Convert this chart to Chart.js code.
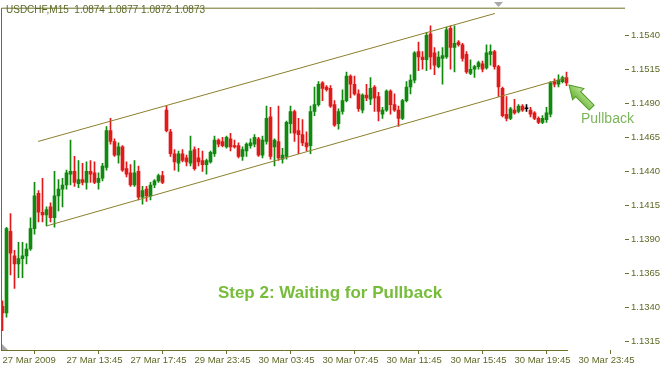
<!DOCTYPE html>
<html>
<head>
<meta charset="utf-8">
<script src="https://cdn.jsdelivr.net/npm/chart.js@4.4.1/dist/chart.umd.min.js"></script>
<style>
html, body { margin: 0; padding: 0; background: #fff; }
</style>
</head>
<body>
<canvas id="candleChart" width="660" height="366"></canvas>
<script>
// USDCHF M15 bars, left to right (one entry per bar)
var opens = [1.1341,1.1336,1.1396,1.1378,1.1372,1.1376,1.1378,1.1383,1.1398,1.1424,
  1.1410,1.1408,1.1414,1.1406,1.1422,1.1427,1.1430,1.1438,1.1440,1.1431,
  1.1434,1.1432,1.1440,1.1439,1.1432,1.1435,1.1443,1.1470,1.1462,1.1452,
  1.1458,1.1442,1.1439,1.1430,1.1440,1.1421,1.1427,1.1422,1.1430,1.1433,
  1.1437,1.1485,1.1469,1.1453,1.1446,1.1453,1.1450,1.1446,1.1456,1.1450,
  1.1448,1.1445,1.1447,1.1453,1.1463,1.1462,1.1458,1.1464,1.1459,1.1459,
  1.1451,1.1455,1.1459,1.1460,1.1464,1.1452,1.1462,1.1480,1.1458,1.1462,
  1.1449,1.1451,1.1475,1.1484,1.1470,1.1467,1.1461,1.1459,1.1484,1.1489,
  1.1505,1.1502,1.1501,1.1489,1.1475,1.1484,1.1492,1.1510,1.1504,1.1497,
  1.1485,1.1496,1.1493,1.1502,1.1495,1.1482,1.1485,1.1499,1.1489,1.1485,
  1.1479,1.1492,1.1502,1.1507,1.1528,1.1524,1.1522,1.1541,1.1527,1.1517,
  1.1523,1.1524,1.1545,1.1531,1.1535,1.1533,1.1526,1.1512,1.1515,1.1517,
  1.1519,1.1516,1.1526,1.1528,1.1517,1.1501,1.1482,1.1479,1.1485,1.1484,
  1.1488,1.1486,1.1485,1.1483,1.1479,1.1476,1.1478,1.1482,1.1506,1.1504,
  1.1506,1.1509];
var highs = [1.1345,1.1399,1.1409,1.1382,1.1388,1.1388,1.1387,1.1406,1.1432,1.1426,
  1.1435,1.1414,1.1417,1.1440,1.1434,1.1435,1.1441,1.1463,1.1451,1.1448,
  1.1446,1.1447,1.1448,1.1447,1.1439,1.1446,1.1473,1.1479,1.1464,1.1461,
  1.1459,1.1447,1.1445,1.1448,1.1444,1.1429,1.1429,1.1432,1.1434,1.1438,
  1.1440,1.1488,1.1471,1.1456,1.1455,1.1456,1.1452,1.1466,1.1458,1.1457,
  1.1455,1.1449,1.1455,1.1466,1.1464,1.1465,1.1466,1.1468,1.1463,1.1461,
  1.1458,1.1461,1.1464,1.1467,1.1465,1.1466,1.1488,1.1487,1.1464,1.1488,
  1.1457,1.1477,1.1488,1.1485,1.1479,1.1478,1.1469,1.1488,1.1502,1.1506,
  1.1506,1.1503,1.1503,1.1492,1.1486,1.1500,1.1513,1.1511,1.1510,1.1500,
  1.1497,1.1504,1.1509,1.1503,1.1498,1.1487,1.1500,1.1500,1.1497,1.1488,
  1.1493,1.1506,1.1511,1.1528,1.1535,1.1528,1.1542,1.1547,1.1531,1.1528,
  1.1531,1.1546,1.1547,1.1547,1.1536,1.1534,1.1528,1.1522,1.1518,1.1521,
  1.1521,1.1533,1.1533,1.1529,1.1518,1.1502,1.1495,1.1487,1.1493,1.1489,
  1.1489,1.1489,1.1487,1.1484,1.1480,1.1481,1.1487,1.1506,1.1508,1.1511,
  1.1510,1.1513];
var lows = [1.1323,1.1333,1.1364,1.1354,1.1362,1.1362,1.1372,1.1382,1.1394,1.1403,
  1.1403,1.1400,1.1403,1.1399,1.1411,1.1414,1.1427,1.1430,1.1429,1.1428,
  1.1430,1.1427,1.1432,1.1431,1.1427,1.1433,1.1441,1.1460,1.1451,1.1446,
  1.1440,1.1436,1.1429,1.1429,1.1419,1.1416,1.1418,1.1419,1.1428,1.1432,
  1.1431,1.1469,1.1451,1.1441,1.1440,1.1447,1.1444,1.1444,1.1441,1.1444,
  1.1440,1.1438,1.1446,1.1451,1.1458,1.1458,1.1457,1.1455,1.1457,1.1450,
  1.1448,1.1451,1.1457,1.1458,1.1451,1.1450,1.1460,1.1449,1.1444,1.1448,
  1.1446,1.1449,1.1468,1.1462,1.1453,1.1459,1.1455,1.1453,1.1481,1.1488,
  1.1492,1.1499,1.1487,1.1473,1.1471,1.1482,1.1491,1.1494,1.1496,1.1484,
  1.1483,1.1492,1.1489,1.1484,1.1477,1.1479,1.1484,1.1482,1.1484,1.1473,
  1.1478,1.1491,1.1497,1.1505,1.1514,1.1515,1.1514,1.1515,1.1511,1.1516,
  1.1504,1.1523,1.1515,1.1513,1.1532,1.1521,1.1512,1.1511,1.1509,1.1515,
  1.1513,1.1515,1.1518,1.1515,1.1495,1.1480,1.1477,1.1478,1.1482,1.1483,
  1.1484,1.1484,1.1480,1.1478,1.1475,1.1475,1.1476,1.1480,1.1502,1.1502,
  1.1505,1.1503];
var closes = [1.1336,1.1398,1.1380,1.1372,1.1376,1.1378,1.1383,1.1398,1.1422,1.1410,
  1.1408,1.1412,1.1406,1.1422,1.1427,1.1430,1.1439,1.1440,1.1432,1.1434,
  1.1432,1.1440,1.1438,1.1432,1.1435,1.1444,1.1470,1.1462,1.1452,1.1458,
  1.1441,1.1438,1.1430,1.1439,1.1421,1.1426,1.1422,1.1430,1.1433,1.1437,
  1.1432,1.1470,1.1453,1.1447,1.1453,1.1448,1.1447,1.1455,1.1442,1.1447,
  1.1445,1.1448,1.1454,1.1463,1.1460,1.1459,1.1465,1.1458,1.1458,1.1451,
  1.1456,1.1460,1.1461,1.1465,1.1452,1.1463,1.1479,1.1451,1.1463,1.1450,
  1.1452,1.1476,1.1484,1.1468,1.1467,1.1461,1.1458,1.1484,1.1489,1.1504,
  1.1501,1.1500,1.1488,1.1474,1.1484,1.1492,1.1510,1.1504,1.1497,1.1486,
  1.1496,1.1494,1.1501,1.1494,1.1484,1.1485,1.1499,1.1489,1.1485,1.1479,
  1.1492,1.1502,1.1507,1.1527,1.1524,1.1522,1.1540,1.1524,1.1518,1.1524,
  1.1525,1.1544,1.1531,1.1534,1.1533,1.1523,1.1513,1.1515,1.1517,1.1520,
  1.1515,1.1527,1.1528,1.1517,1.1502,1.1481,1.1479,1.1486,1.1483,1.1488,
  1.1485,1.1486,1.1482,1.1479,1.1476,1.1479,1.1483,1.1505,1.1504,1.1507,
  1.1509,1.1505];

// time axis: bar index of each label and its text
var timeTickBars = [0, 16, 32, 48, 64, 80, 96, 112, 128, 144];
var timeTickLabels = ['27 Mar 2009', '27 Mar 13:45', '27 Mar 17:45', '29 Mar 23:45', '30 Mar 03:45',
  '30 Mar 07:45', '30 Mar 11:45', '30 Mar 15:45', '30 Mar 19:45', '30 Mar 23:45'];
var priceTicks = [1.1315, 1.1340, 1.1365, 1.1390, 1.1415, 1.1440, 1.1465, 1.1490, 1.1515, 1.1540];

// channel anchors: bar index, price
var upperChannelBars = [8.9, 123.1];
var upperChannelPrices = [1.1462, 1.1556];
var lowerChannelBars = [11.05, 141.1];
var lowerChannelPrices = [1.1400, 1.1509];

var upColor = '#0f8a0f';
var downColor = '#e31818';
var textColor = '#5c6a26';
var frameColor = '#6e7028';
var channelColor = '#8c7f2c';

function candleColor(i) {
    if (closes[i] > opens[i]) return upColor;
    if (closes[i] < opens[i]) return downColor;
    return '#000000';
}

var candleColors = opens.map(function(o, i) { return candleColor(i); });
var wickData = lows.map(function(l, i) { return { x: i, y: [l, highs[i]] }; });
var bodyData = opens.map(function(o, i) { return { x: i, y: [o, closes[i]] }; });

// frame, labels and the pullback arrow
var decorations = {
    id: 'decorations',
    afterDraw: function(chart) {
        var ctx = chart.ctx;
        var area = chart.chartArea;
        ctx.save();

        ctx.strokeStyle = frameColor;
        ctx.lineWidth = 1;
        ctx.beginPath();
        ctx.moveTo(area.left + 0.5, area.bottom);
        ctx.lineTo(area.left + 0.5, area.top + 0.5);
        ctx.lineTo(area.right, area.top + 0.5);
        ctx.moveTo(area.left, area.bottom + 0.5);
        ctx.lineTo(568, area.bottom + 0.5);
        ctx.stroke();

        // small grey markers
        ctx.fillStyle = '#a8a8a8';
        ctx.beginPath();
        ctx.moveTo(494, 2); ctx.lineTo(503, 2); ctx.lineTo(498.5, 7); ctx.closePath();
        ctx.fill();
        ctx.beginPath();
        ctx.moveTo(2, 344); ctx.lineTo(2, 350); ctx.lineTo(8, 350); ctx.closePath();
        ctx.fill();

        ctx.fillStyle = textColor;
        ctx.font = '10px "Liberation Sans", Arial, sans-serif';
        ctx.textBaseline = 'middle';
        ctx.textAlign = 'left';
        ctx.fillText('USDCHF,M15  1.0874 1.0877 1.0872 1.0873', 6, 10);

        ctx.fillStyle = '#76bd3a';
        ctx.font = 'bold 17px "Liberation Sans", Arial, sans-serif';
        ctx.textAlign = 'center';
        ctx.fillText('Step 2: Waiting for Pullback', 330, 293);

        ctx.fillStyle = '#7cb65a';
        ctx.font = '14px "Liberation Sans", Arial, sans-serif';
        ctx.textAlign = 'left';
        ctx.fillText('Pullback', 581, 119);

        // arrow pointing back at the last candles
        ctx.translate(569, 85);
        ctx.rotate(Math.PI / 4);
        var grad = ctx.createLinearGradient(0, -8, 0, 8);
        grad.addColorStop(0, '#c4e8a0');
        grad.addColorStop(1, '#5fae2c');
        ctx.fillStyle = grad;
        ctx.strokeStyle = '#4e9a22';
        ctx.beginPath();
        ctx.moveTo(0, 0);
        ctx.lineTo(13, -8);
        ctx.lineTo(13, -3.5);
        ctx.lineTo(32, -3.5);
        ctx.lineTo(32, 3.5);
        ctx.lineTo(13, 3.5);
        ctx.lineTo(13, 8);
        ctx.closePath();
        ctx.fill();
        ctx.stroke();

        ctx.restore();
    }
};

var ctx = document.getElementById('candleChart').getContext('2d');
var candleChart = new Chart(ctx, {
    type: 'bar',
    data: {
        datasets: [{
            label: 'wicks',
            data: wickData,
            backgroundColor: candleColors,
            barThickness: 1,
            grouped: false,
            order: 2
        }, {
            label: 'bodies',
            data: bodyData,
            backgroundColor: candleColors,
            barThickness: 3,
            minBarLength: 1,
            grouped: false,
            order: 1
        }, {
            type: 'line',
            label: 'upper',
            data: upperChannelBars.map(function(b, i) { return { x: b, y: upperChannelPrices[i] }; }),
            borderColor: channelColor,
            borderWidth: 1,
            pointRadius: 0,
            order: 0
        }, {
            type: 'line',
            label: 'lower',
            data: lowerChannelBars.map(function(b, i) { return { x: b, y: lowerChannelPrices[i] }; }),
            borderColor: channelColor,
            borderWidth: 1,
            pointRadius: 0,
            order: 0
        }]
    },
    options: {
        responsive: false,
        animation: false,
        devicePixelRatio: 1,
        layout: { padding: { left: 1, top: 2, right: 0, bottom: 0 } },
        plugins: {
            legend: { display: false },
            tooltip: { enabled: false }
        },
        scales: {
            x: {
                type: 'linear',
                position: 'bottom',
                min: -0.375,
                max: 155.625,
                offset: false,
                border: { display: false },
                grid: { drawOnChartArea: false, drawTicks: true, tickLength: 4, color: frameColor },
                afterBuildTicks: function(scale) {
                    scale.ticks = timeTickBars.map(function(v) { return { value: v }; });
                },
                afterFit: function(scale) { scale.height = 16; },
                ticks: {
                    autoSkip: false,
                    maxRotation: 0,
                    minRotation: 0,
                    align: 'start',
                    padding: 1,
                    color: textColor,
                    font: { family: '"Liberation Sans", Arial, sans-serif', size: 9.5 },
                    callback: function(value) {
                        var k = timeTickBars.indexOf(value);
                        return k >= 0 ? timeTickLabels[k] : '';
                    }
                }
            },
            y: {
                type: 'linear',
                position: 'right',
                min: 1.130886,
                max: 1.156023,
                border: { display: false },
                grid: { drawOnChartArea: false, drawTicks: true, tickLength: 4, color: frameColor },
                afterBuildTicks: function(scale) {
                    scale.ticks = priceTicks.map(function(v) { return { value: v }; });
                },
                afterFit: function(scale) { scale.width = 35; },
                ticks: {
                    padding: 2,
                    color: textColor,
                    font: { family: '"Liberation Sans", Arial, sans-serif', size: 9.5 },
                    callback: function(value) { return value.toFixed(4); }
                }
            }
        }
    },
    plugins: [decorations]
});
</script>
</body>
</html>
